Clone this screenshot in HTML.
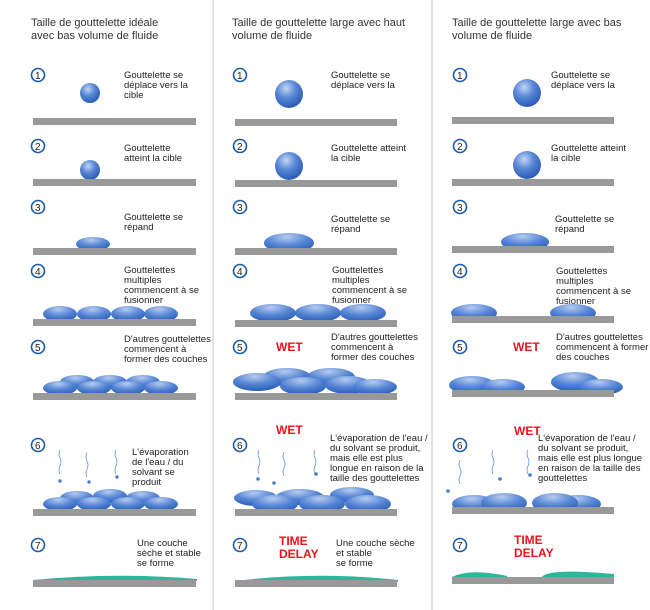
<!DOCTYPE html>
<html><head><meta charset="utf-8"><style>
html,body{margin:0;padding:0;background:#fff;width:650px;height:610px;overflow:hidden}
svg{display:block}
text{font-family:"Liberation Sans",sans-serif;font-size:9.5px;fill:#222}
.h{font-size:11px;fill:#333}
.w{font-size:12px;font-weight:bold;fill:#e8141e}
.n{font-size:10px;fill:#222}
</style></head><body>
<svg width="650" height="610" viewBox="0 0 650 610" xmlns="http://www.w3.org/2000/svg">
<defs>
<radialGradient id="g" cx="0.4" cy="0.3" r="0.75">
<stop offset="0" stop-color="#c4d6f4"/><stop offset="0.45" stop-color="#5a88d6"/><stop offset="1" stop-color="#2256b0"/>
</radialGradient>
<radialGradient id="ge" cx="0.45" cy="0.2" r="0.85">
<stop offset="0" stop-color="#b6cbf0"/><stop offset="0.5" stop-color="#5585d4"/><stop offset="1" stop-color="#2358b2"/>
</radialGradient>
<g id="num"><circle r="6.5" fill="#fff" stroke="#1a5aa8" stroke-width="1.6"/></g>
</defs>
<rect x="212" y="0" width="2" height="610" fill="#e2e2e2"/>
<rect x="431" y="0" width="2" height="610" fill="#e2e2e2"/>

<text class="h" x="31" y="26">Taille de gouttelette idéale</text>
<text class="h" x="31" y="39">avec bas volume de fluide</text>
<text class="h" x="232" y="26">Taille de gouttelette large avec haut</text>
<text class="h" x="232" y="39">volume de fluide</text>
<text class="h" x="452" y="26">Taille de gouttelette large avec bas</text>
<text class="h" x="452" y="39">volume de fluide</text>

<g id="nums">
<use href="#num" x="38" y="75"/><text class="n" x="35" y="79">1</text>
<use href="#num" x="38" y="146"/><text class="n" x="35" y="150">2</text>
<use href="#num" x="38" y="207"/><text class="n" x="35" y="211">3</text>
<use href="#num" x="38" y="271"/><text class="n" x="35" y="275">4</text>
<use href="#num" x="38" y="347"/><text class="n" x="35" y="351">5</text>
<use href="#num" x="38" y="445"/><text class="n" x="35" y="449">6</text>
<use href="#num" x="38" y="545"/><text class="n" x="35" y="549">7</text>
</g>
<use href="#nums" x="202"/>
<use href="#nums" x="422"/>

<!-- COLUMN 1 -->
<text x="124" y="78">Gouttelette se</text><text x="124" y="88">déplace vers la</text><text x="124" y="98">cible</text>
<circle cx="90" cy="93" r="10" fill="url(#g)"/>
<rect x="33" y="118" width="163" height="7" fill="#999"/>
<text x="124" y="151">Gouttelette</text><text x="124" y="161">atteint la cible</text>
<circle cx="90" cy="170" r="10" fill="url(#g)"/>
<rect x="33" y="179" width="163" height="7" fill="#999"/>
<text x="124" y="220">Gouttelette se</text><text x="124" y="230">répand</text>
<ellipse cx="93" cy="244" rx="17" ry="7" fill="url(#ge)"/>
<rect x="33" y="248" width="163" height="7" fill="#999"/>
<text x="124" y="273">Gouttelettes</text><text x="124" y="283">multiples</text><text x="124" y="293">commencent à se</text><text x="124" y="303">fusionner</text>
<ellipse cx="60" cy="314" rx="17" ry="8" fill="url(#ge)"/><ellipse cx="94" cy="314" rx="17" ry="8" fill="url(#ge)"/><ellipse cx="128" cy="314" rx="17" ry="8" fill="url(#ge)"/><ellipse cx="161" cy="314" rx="17" ry="8" fill="url(#ge)"/>
<rect x="33" y="319" width="163" height="7" fill="#999"/>
<text x="124" y="342">D'autres gouttelettes</text><text x="124" y="352">commencent à</text><text x="124" y="362">former des couches</text>
<ellipse cx="77" cy="382" rx="17" ry="7" fill="url(#ge)"/><ellipse cx="110" cy="382" rx="17" ry="7" fill="url(#ge)"/><ellipse cx="143" cy="382" rx="17" ry="7" fill="url(#ge)"/>
<ellipse cx="60" cy="388" rx="17" ry="7" fill="url(#ge)"/><ellipse cx="94" cy="388" rx="17" ry="7" fill="url(#ge)"/><ellipse cx="128" cy="388" rx="17" ry="7" fill="url(#ge)"/><ellipse cx="161" cy="388" rx="17" ry="7" fill="url(#ge)"/>
<rect x="33" y="393" width="163" height="7" fill="#999"/>
<text x="132" y="455">L'évaporation</text><text x="132" y="465">de l'eau / du</text><text x="132" y="475">solvant se</text><text x="132" y="485">produit</text>
<g fill="none" stroke="#5b8fd6" stroke-width="0.8">
<path d="M60 450 q-2 4 0 8 q2 4 0 8 q-2 4 0 8"/><path d="M87 453 q-2 4 0 8 q2 4 0 8 q-2 4 0 8"/><path d="M116 450 q-2 4 0 8 q2 4 0 8 q-2 4 0 8"/>
</g>
<g fill="#4b7bcd"><circle cx="60" cy="481" r="1.7"/><circle cx="89" cy="482" r="1.7"/><circle cx="117" cy="477" r="1.7"/></g>
<ellipse cx="77" cy="498" rx="17" ry="7" fill="url(#ge)"/><ellipse cx="110" cy="496" rx="17" ry="7" fill="url(#ge)"/><ellipse cx="143" cy="498" rx="17" ry="7" fill="url(#ge)"/>
<ellipse cx="60" cy="504" rx="17" ry="7" fill="url(#ge)"/><ellipse cx="94" cy="504" rx="17" ry="7" fill="url(#ge)"/><ellipse cx="128" cy="504" rx="17" ry="7" fill="url(#ge)"/><ellipse cx="161" cy="504" rx="17" ry="7" fill="url(#ge)"/>
<rect x="33" y="509" width="163" height="7" fill="#999"/>
<text x="137" y="546">Une couche</text><text x="137" y="556">sèche et stable</text><text x="137" y="566">se forme</text>
<path d="M33 580 Q114 572 197 579 L197 581 L33 581 Z" fill="#2bb89a"/>
<rect x="33" y="580" width="163" height="7" fill="#999"/>

<!-- COLUMN 2 -->
<text x="331" y="78">Gouttelette se</text><text x="331" y="88">déplace vers la</text>
<circle cx="289" cy="94" r="14" fill="url(#g)"/>
<rect x="235" y="119" width="162" height="7" fill="#999"/>
<text x="331" y="151">Gouttelette atteint</text><text x="331" y="161">la cible</text>
<circle cx="289" cy="166" r="14" fill="url(#g)"/>
<rect x="235" y="180" width="162" height="7" fill="#999"/>
<text x="331" y="222">Gouttelette se</text><text x="331" y="232">répand</text>
<ellipse cx="289" cy="243" rx="25" ry="10" fill="url(#ge)"/>
<rect x="235" y="248" width="162" height="7" fill="#999"/>
<text x="332" y="273">Gouttelettes</text><text x="332" y="283">multiples</text><text x="332" y="293">commencent à se</text><text x="332" y="303">fusionner</text>
<ellipse cx="273" cy="313" rx="23" ry="9" fill="url(#ge)"/><ellipse cx="318" cy="313" rx="23" ry="9" fill="url(#ge)"/><ellipse cx="363" cy="313" rx="23" ry="9" fill="url(#ge)"/>
<rect x="235" y="320" width="162" height="7" fill="#999"/>
<text class="w" x="276" y="351">WET</text>
<text x="331" y="340">D'autres gouttelettes</text><text x="331" y="350">commencent à</text><text x="331" y="360">former des couches</text>
<ellipse cx="287" cy="377" rx="24" ry="9" fill="url(#ge)"/><ellipse cx="331" cy="377" rx="24" ry="9" fill="url(#ge)"/>
<ellipse cx="257" cy="382" rx="24" ry="9" fill="url(#ge)"/><ellipse cx="303" cy="386" rx="23" ry="9" fill="url(#ge)"/><ellipse cx="348" cy="385" rx="23" ry="9" fill="url(#ge)"/><ellipse cx="375" cy="387" rx="22" ry="8" fill="url(#ge)"/>
<rect x="235" y="393" width="162" height="7" fill="#999"/>
<text class="w" x="276" y="434">WET</text>
<text x="330" y="441">L'évaporation de l'eau /</text><text x="330" y="451">du solvant se produit,</text><text x="330" y="461">mais elle est plus</text><text x="330" y="471">longue en raison de la</text><text x="330" y="481">taille des gouttelettes</text>
<g fill="none" stroke="#5b8fd6" stroke-width="0.8">
<path d="M259 450 q-2 4 0 8 q2 4 0 8 q-2 4 0 8"/><path d="M284 452 q-2 4 0 8 q2 4 0 8 q-2 4 0 8"/><path d="M315 450 q-2 4 0 8 q2 4 0 8 q-2 4 0 8"/>
</g>
<g fill="#4b7bcd"><circle cx="258" cy="479" r="1.8"/><circle cx="274" cy="483" r="1.8"/><circle cx="316" cy="474" r="1.8"/></g>
<ellipse cx="256" cy="498" rx="22" ry="8" fill="url(#ge)"/><ellipse cx="300" cy="497" rx="24" ry="8" fill="url(#ge)"/><ellipse cx="352" cy="495" rx="22" ry="8" fill="url(#ge)"/>
<ellipse cx="275" cy="504" rx="23" ry="9" fill="url(#ge)"/><ellipse cx="322" cy="504" rx="23" ry="9" fill="url(#ge)"/><ellipse cx="368" cy="504" rx="23" ry="9" fill="url(#ge)"/>
<rect x="235" y="509" width="162" height="7" fill="#999"/>
<text class="w" x="279" y="545">TIME</text><text class="w" x="279" y="558">DELAY</text>
<text x="336" y="546">Une couche sèche</text><text x="336" y="556">et stable</text><text x="336" y="566">se forme</text>
<path d="M235 581 Q316 571 398 580 L398 582 L235 582 Z" fill="#2bb89a"/>
<rect x="235" y="580" width="162" height="7" fill="#999"/>

<!-- COLUMN 3 -->
<text x="551" y="78">Gouttelette se</text><text x="551" y="88">déplace vers la</text>
<circle cx="527" cy="93" r="14" fill="url(#g)"/>
<rect x="452" y="117" width="162" height="7" fill="#999"/>
<text x="551" y="151">Gouttelette atteint</text><text x="551" y="161">la cible</text>
<circle cx="527" cy="165" r="14" fill="url(#g)"/>
<rect x="452" y="179" width="162" height="7" fill="#999"/>
<text x="555" y="222">Gouttelette se</text><text x="555" y="232">répand</text>
<ellipse cx="525" cy="242" rx="24" ry="9" fill="url(#ge)"/>
<rect x="452" y="246" width="162" height="7" fill="#999"/>
<text x="556" y="274">Gouttelettes</text><text x="556" y="284">multiples</text><text x="556" y="294">commencent à se</text><text x="556" y="304">fusionner</text>
<ellipse cx="474" cy="313" rx="23" ry="9" fill="url(#ge)"/><ellipse cx="573" cy="313" rx="23" ry="9" fill="url(#ge)"/>
<rect x="452" y="316" width="162" height="7" fill="#999"/>
<text class="w" x="513" y="351">WET</text>
<text x="556" y="340">D'autres gouttelettes</text><text x="556" y="350">commencent à former</text><text x="556" y="360">des couches</text>
<ellipse cx="472" cy="385" rx="23" ry="9" fill="url(#ge)"/><ellipse cx="503" cy="387" rx="22" ry="8" fill="url(#ge)"/>
<ellipse cx="575" cy="382" rx="24" ry="10" fill="url(#ge)"/><ellipse cx="601" cy="387" rx="22" ry="8" fill="url(#ge)"/>
<rect x="452" y="390" width="162" height="7" fill="#999"/>
<text class="w" x="514" y="435">WET</text>
<text x="538" y="441">L'évaporation de l'eau /</text><text x="538" y="451">du solvant se produit,</text><text x="538" y="461">mais elle est plus longue</text><text x="538" y="471">en raison de la taille des</text><text x="538" y="481">gouttelettes</text>
<g fill="none" stroke="#5b8fd6" stroke-width="0.8">
<path d="M460 460 q-2 4 0 8 q2 4 0 8 q-2 4 0 8"/><path d="M493 450 q-2 4 0 8 q2 4 0 8 q-2 4 0 8"/><path d="M528 450 q-2 4 0 8 q2 4 0 8 q-2 4 0 8"/>
</g>
<g fill="#4b7bcd"><circle cx="448" cy="491" r="1.8"/><circle cx="500" cy="479" r="1.8"/><circle cx="530" cy="475" r="1.8"/></g>
<ellipse cx="474" cy="504" rx="22" ry="9" fill="url(#ge)"/><ellipse cx="504" cy="503" rx="23" ry="10" fill="url(#ge)"/>
<ellipse cx="578" cy="504" rx="23" ry="9" fill="url(#ge)"/><ellipse cx="555" cy="503" rx="23" ry="10" fill="url(#ge)"/>
<rect x="452" y="507" width="162" height="7" fill="#999"/>
<text class="w" x="514" y="544">TIME</text><text class="w" x="514" y="557">DELAY</text>
<path d="M452 577 Q470 568 507 576 L507 578 L452 578 Z" fill="#2bb89a"/>
<path d="M542 577 Q548 568 614 574 L614 578 L542 578 Z" fill="#2bb89a"/>
<rect x="452" y="577" width="162" height="7" fill="#999"/>
</svg>
</body></html>
